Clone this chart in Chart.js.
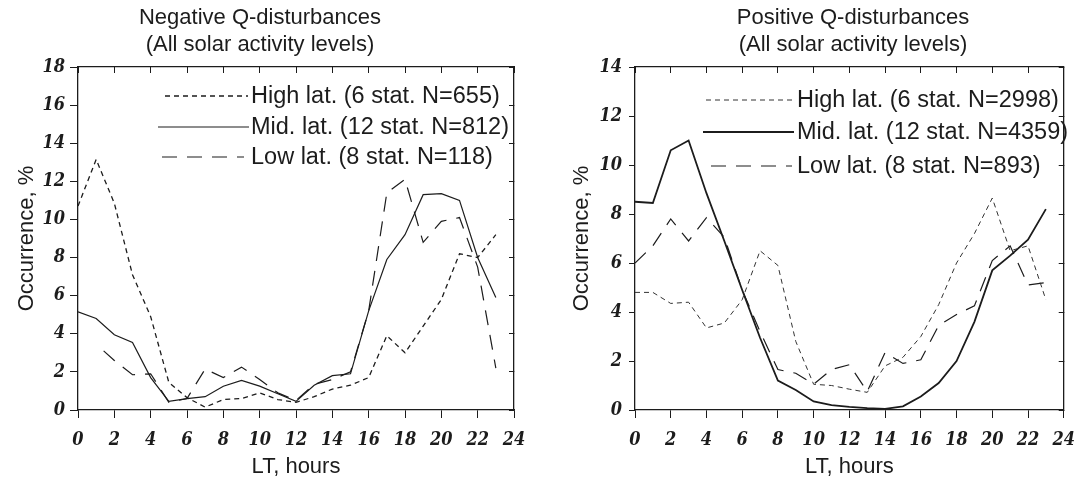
<!DOCTYPE html>
<html>
<head>
<meta charset="utf-8">
<script src="https://cdn.jsdelivr.net/npm/chart.js@4.4.1/dist/chart.umd.min.js"></script>
<style>
  html, body { margin: 0; padding: 0; background: #ffffff; }
  #wrap { position: relative; width: 1087px; height: 484px; overflow: hidden; background: #fff; }
  .panel { position: absolute; top: 0; height: 484px; }
  #p1 { left: 0; width: 545px; }
  #p2 { left: 545px; width: 542px; }
</style>
</head>
<body>
<div id="wrap">
  <div class="panel" id="p1"><canvas id="c1" width="545" height="484"></canvas></div>
  <div class="panel" id="p2"><canvas id="c2" width="542" height="484"></canvas></div>
</div>
<script>
// ---------- DATA ----------
const hours = [0,1,2,3,4,5,6,7,8,9,10,11,12,13,14,15,16,17,18,19,20,21,22,23];
const xTickLabels = ['0','2','4','6','8','10','12','14','16','18','20','22','24'];
const negYTickLabels = ['0','2','4','6','8','10','12','14','16','18'];
const posYTickLabels = ['0','2','4','6','8','10','12','14'];

const negTitle = ['Negative Q-disturbances', '(All solar activity levels)'];
const posTitle = ['Positive Q-disturbances', '(All solar activity levels)'];
const xTitle = 'LT, hours';
const yTitle = 'Occurrence, %';

const negLabels = ['High lat. (6 stat. N=655)', 'Mid. lat. (12 stat. N=812)', 'Low lat. (8 stat. N=118)'];
const posLabels = ['High lat. (6 stat. N=2998)', 'Mid. lat. (12 stat. N=4359)', 'Low lat. (8 stat. N=893)'];

const negHigh = [10.7, 13.15, 10.85, 7.1, 4.9, 1.45, 0.65, 0.15, 0.55, 0.6, 0.9, 0.55, 0.4, 0.7, 1.1, 1.3, 1.7, 3.9, 3.0, 4.4, 5.8, 8.2, 8.0, 9.2];
const negMid  = [5.15, 4.8, 3.95, 3.55, 1.7, 0.45, 0.6, 0.7, 1.25, 1.55, 1.25, 0.85, 0.45, 1.3, 1.8, 1.9, 5.2, 7.9, 9.2, 11.3, 11.35, 11.0, 8.0, 5.9];
const negLow  = [null, 3.45, 2.6, 1.85, 1.9, 0.4, 0.6, 2.15, 1.7, 2.25, 1.6, 0.9, 0.5, 1.35, 1.6, 2.0, 5.2, 11.4, 12.1, 8.8, 9.9, 10.1, 7.5, 2.2];

const posHigh = [4.8, 4.8, 4.35, 4.4, 3.35, 3.55, 4.5, 6.5, 5.9, 2.8, 1.05, 1.0, 0.85, 0.72, 1.8, 2.15, 3.0, 4.3, 6.0, 7.2, 8.65, 6.5, 6.7, 4.5];
const posMid  = [8.5, 8.45, 10.6, 11.0, 8.85, 6.9, 4.9, 2.95, 1.2, 0.82, 0.35, 0.2, 0.13, 0.08, 0.05, 0.15, 0.55, 1.1, 2.0, 3.6, 5.7, 6.3, 6.95, 8.2];
const posLow  = [6.0, 6.7, 7.8, 6.9, 7.85, 7.05, 4.9, 3.2, 1.65, 1.5, 1.05, 1.65, 1.85, 0.75, 2.35, 1.9, 2.05, 3.45, 3.9, 4.25, 6.1, 6.7, 5.1, 5.2];

// ---------- STYLE ----------
const INK = '#1c1c1c';
const SANS = '"Liberation Sans", Arial, Helvetica, sans-serif';
const tickFont = { family: '"DejaVu Serif Condensed", "Liberation Serif", "Times New Roman", serif', size: 18, style: 'italic', weight: 'bold' };
const axisTitleFont = { family: SANS, size: 22 };

const titlePlugin = {
  id: 'panelTitle',
  afterDraw(chart, args, o) {
    const ctx = chart.ctx;
    ctx.save();
    ctx.fillStyle = INK;
    ctx.font = o.size + 'px ' + SANS;
    ctx.textAlign = 'center';
    ctx.textBaseline = 'middle';
    o.lines.forEach((t, i) => ctx.fillText(t, o.cx, o.ys[i]));
    ctx.restore();
  }
};

const legendPlugin = {
  id: 'manualLegend',
  afterDraw(chart, args, o) {
    const ctx = chart.ctx;
    chart.data.datasets.forEach((ds, i) => {
      const y = o.ys[i];
      ctx.save();
      ctx.strokeStyle = ds.borderColor;
      ctx.lineWidth = ds.borderWidth;
      ctx.setLineDash(ds.borderDash || []);
      ctx.beginPath();
      ctx.moveTo(o.x0[i], y);
      ctx.lineTo(o.x1[i], y);
      ctx.stroke();
      ctx.setLineDash([]);
      ctx.fillStyle = INK;
      ctx.font = o.size + 'px ' + SANS;
      ctx.textAlign = 'left';
      ctx.textBaseline = 'middle';
      ctx.fillText(ds.label, o.tx, y + 1);
      ctx.restore();
    });
  }
};

function makeChart(id, p) {
  const series = p.series.map(s => ({
    label: s.label,
    data: hours.map((h, i) => ({ x: h, y: s.values[i] })),
    borderColor: s.color || INK,
    borderWidth: s.width,
    borderDash: s.dash,
    borderDashOffset: s.offset || 0,
    pointRadius: 0,
    pointHoverRadius: 0,
    tension: 0,
    fill: false,
    spanGaps: false
  }));
  return new Chart(document.getElementById(id), {
    type: 'line',
    data: { datasets: series },
    options: {
      responsive: false,
      animation: false,
      devicePixelRatio: 1,
      layout: { padding: { top: 67, left: 0, right: p.padRight, bottom: 0 } },
      plugins: {
        legend: { display: false },
        tooltip: { enabled: false },
        panelTitle: { lines: p.title, cx: p.titleCx, ys: [18, 45], size: 22 },
        manualLegend: p.legend
      },
      scales: {
        x: {
          type: 'linear', position: 'bottom', min: 0, max: 24,
          ticks: { stepSize: 2, autoSkip: false, maxRotation: 0, padding: 12, color: INK, font: tickFont,
                   callback: (v) => xTickLabels[Math.round(v / 2)] },
          grid: { drawOnChartArea: false, drawTicks: true, tickLength: 8, color: INK, lineWidth: 1 },
          border: { display: true, color: INK, width: 1.3 },
          title: { display: true, text: xTitle, color: INK, font: axisTitleFont, padding: { top: 0, bottom: 4 } },
          afterFit(s) { s.height = 74; }
        },
        xTop: {
          type: 'linear', axis: 'x', position: 'top', min: 0, max: 24,
          ticks: { display: false, stepSize: 2, autoSkip: false },
          grid: { drawOnChartArea: false, drawTicks: true, tickLength: -6, color: INK, lineWidth: 1 },
          border: { display: true, color: INK, width: 1.3 },
          afterFit(s) { s.height = 0; }
        },
        y: {
          type: 'linear', position: 'left', min: 0, max: p.ymax,
          ticks: { stepSize: 2, autoSkip: false, padding: p.yTickPad, color: INK, font: tickFont,
                   callback: (v) => p.yLabels[Math.round(v / 2)] },
          grid: { drawOnChartArea: false, drawTicks: true, tickLength: p.yTickLen, color: INK, lineWidth: 1 },
          border: { display: true, color: INK, width: 1.3 },
          title: { display: true, text: yTitle, color: INK, font: axisTitleFont, padding: { top: p.yTitlePad, bottom: 0 } },
          afterFit(s) { s.width = p.yWidth; }
        },
        yRight: {
          type: 'linear', axis: 'y', position: 'right', min: 0, max: p.ymax,
          ticks: { display: false, stepSize: 2, autoSkip: false },
          grid: { drawOnChartArea: false, drawTicks: true, tickLength: -5, color: INK, lineWidth: 1 },
          border: { display: true, color: INK, width: 1.3 },
          afterFit(s) { s.width = 0; }
        }
      }
    },
    plugins: [titlePlugin, legendPlugin]
  });
}

makeChart('c1', {
  ymax: 18, yLabels: negYTickLabels, yWidth: 78, padRight: 31, yTickPad: 5, yTickLen: 8, yTitlePad: 14,
  title: negTitle, titleCx: 260,
  series: [
    { label: negLabels[0], values: negHigh, width: 1.3, dash: [5, 4] },
    { label: negLabels[1], values: negMid, width: 1.2, dash: [] },
    { label: negLabels[2], values: negLow, width: 1.2, dash: [15, 10], offset: 15 }
  ],
  legend: { x0: [165, 158, 162], x1: [248, 249, 244], ys: [96, 127, 157], tx: 251, size: 23.5 }
});

makeChart('c2', {
  ymax: 14, yLabels: posYTickLabels, yWidth: 90, padRight: 15, yTickPad: 7, yTickLen: 6, yTitlePad: 24,
  title: posTitle, titleCx: 308,
  series: [
    { label: posLabels[0], values: posHigh, width: 1.0, dash: [5, 4], color: '#333' },
    { label: posLabels[1], values: posMid, width: 1.8, dash: [] },
    { label: posLabels[2], values: posLow, width: 1.2, dash: [15, 10] }
  ],
  legend: { x0: [161, 158, 166], x1: [249, 249, 247], ys: [100, 132, 166], tx: 252, size: 23.5 }
});
</script>
</body>
</html>
